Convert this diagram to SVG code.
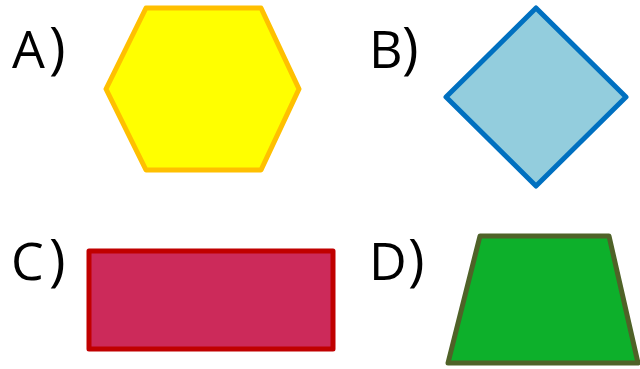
<svg xmlns="http://www.w3.org/2000/svg" width="640" height="369" viewBox="0 0 640 369">
<style>
.lbl{font-family:"Open Sans","DejaVu Sans",sans-serif;font-size:52px;font-weight:400;fill:#000}
.p{font-size:56px}
.shp{stroke-width:5;stroke-linejoin:round}
</style>
<rect width="640" height="369" fill="#fff"/>
<g id="nodeA">
<text class="lbl" x="12" y="68">A<tspan class="p" x="49">)</tspan></text>
<polygon class="shp" points="146,8 261,8 299,89 261,170 146,170 106,89" fill="#FFFF00" stroke="#FFC000"/>
</g>
<g id="nodeB">
<text class="lbl" x="369" y="68">B<tspan class="p" x="402">)</tspan></text>
<polygon class="shp" points="536,8 626,97 536,186 446,97" fill="#93CDDD" stroke="#0070C0"/>
</g>
<g id="nodeC">
<text class="lbl" x="11" y="280">C<tspan class="p" x="49">)</tspan></text>
<rect class="shp" x="89" y="251" width="244" height="98" fill="#CC2A5A" stroke="#C00000"/>
</g>
<g id="nodeD">
<text class="lbl" x="369" y="280">D<tspan class="p" x="408">)</tspan></text>
<polygon class="shp" points="480,236 609,236 638,363 448,363" fill="#0DB02B" stroke="#4F6228"/>
</g>
<g id="connectors"></g>
</svg>
